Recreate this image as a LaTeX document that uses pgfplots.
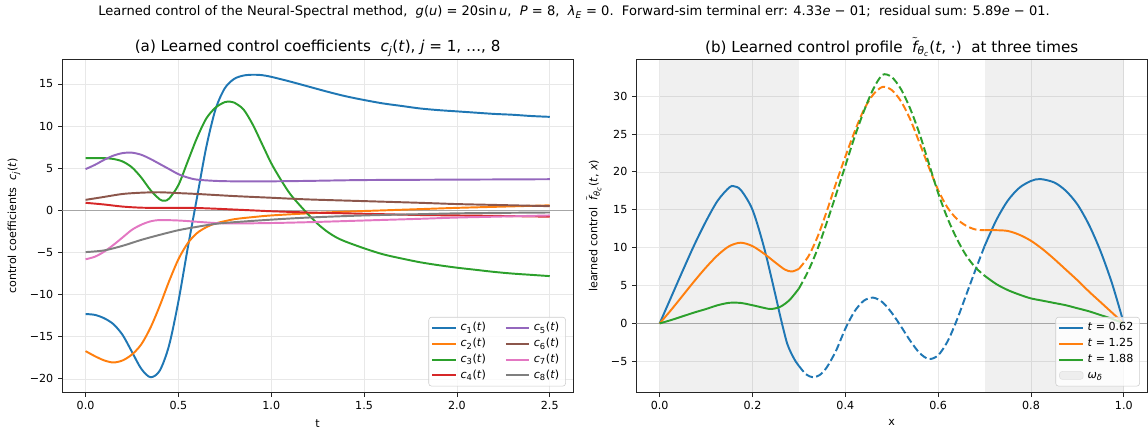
\documentclass[border=0pt]{standalone}
\usepackage{fontspec}
\setmainfont{DejaVu Sans}
\usepackage{pgfplots}
\pgfplotsset{compat=1.18}
\definecolor{C0}{HTML}{1F77B4}
\definecolor{C1}{HTML}{FF7F0E}
\definecolor{C2}{HTML}{2CA02C}
\definecolor{C3}{HTML}{D62728}
\definecolor{C4}{HTML}{9467BD}
\definecolor{C5}{HTML}{8C564B}
\definecolor{C6}{HTML}{E377C2}
\definecolor{C7}{HTML}{7F7F7F}
\newcommand{\mi}[1]{\textit{#1}}
\newcommand{\msub}[1]{\textsubscript{#1}}
\pgfplotsset{
  mpl/.style={
    scale only axis,
    width=367.6pt, height=239.8pt,
    axis line style={line width=0.6pt, black!85},
    tick align=outside, tick pos=left,
    major tick length=3pt,
    tick style={line width=0.6pt, black!85},
    grid=major,
    grid style={line width=0.5pt, black!9},
    ticklabel style={font=\fontsize{8}{9.6}\selectfont},
    title style={font=\fontsize{10.9}{13}\selectfont, yshift=-7.5pt},
    label style={font=\fontsize{8}{9.6}\selectfont},
    every axis plot/.append style={line width=1.4pt},
    legend cell align=left,
    legend style={font=\fontsize{8}{9.6}\selectfont,
      draw=black!20, rounded corners=2pt, fill=white, fill opacity=0.8, text opacity=1,
      row sep=0pt, inner sep=2pt,
      nodes={inner ysep=1.6pt, inner xsep=2.5pt, text height=6.2pt, text depth=2pt},
      /tikz/every even column/.append style={column sep=11pt}},
    legend image code/.code={\draw[#1] plot coordinates {(0pt,0pt) (17pt,0pt)};},
    mpldash/.style={dash pattern=on 5.5pt off 2.4pt},
  }
}
\begin{document}
\begin{tikzpicture}
\useasboundingbox (-44.9pt,-30.9pt) rectangle (781.6pt,282.5pt);
\node[font=\fontsize{9.4}{11}\selectfont] at (368.4pt,273.6pt) {Learned control of the Neural-Spectral method,\ \ \mi{g}(\mi{u}) = 20sin\,\mi{u},\ \ \mi{P} = 8,\ \ \mi{λ}\msub{\mi{E}} = 0.\ \ Forward-sim terminal err: 4.33\mi{e} − 01;\ \ residual sum: 5.89\mi{e} − 01.};
% ---------------- left panel
\begin{axis}[mpl, at={(0pt,0pt)}, anchor=south west,
  xmin=-0.125, xmax=2.625, ymin=-21.6, ymax=17.93,
  xtick={0,0.5,1,1.5,2,2.5}, xticklabels={0.0,0.5,1.0,1.5,2.0,2.5},
  ytick={-20,-15,-10,-5,0,5,10,15}, yticklabels={−20,−15,−10,−5,0,5,10,15},
  xlabel={t}, ylabel={control coefficients\ \ \mi{c}\msub{\mi{j}}(\mi{t})},
  title={(a) Learned control coefficients\ \ \mi{c}\msub{\mi{j}}(\mi{t}), \mi{j} = 1, …, 8},
  legend style={at={(0.986,0.018)}, anchor=south east},
  legend columns=2,
]
\addplot[black!35, line width=0.6pt, forget plot] coordinates {(-0.125,0) (2.625,0)};
\addplot[C0, smooth, forget plot] coordinates {
(0,-12.3)(0.05,-12.4)(0.1,-12.8)(0.15,-13.5)(0.2,-14.8)(0.25,-16.8)(0.3,-18.8)(0.35,-19.8)(0.4,-19.0)(0.45,-16.0)(0.5,-10.8)(0.55,-4.5)(0.6,1.5)(0.65,7.5)(0.7,12.0)(0.75,14.5)(0.8,15.6)(0.85,16.0)(0.9,16.1)(0.95,16.05)(1.0,15.85)(1.1,15.3)(1.2,14.7)(1.3,14.1)(1.4,13.55)(1.5,13.1)(1.6,12.7)(1.7,12.4)(1.8,12.1)(1.9,11.9)(2.0,11.75)(2.1,11.6)(2.2,11.45)(2.3,11.35)(2.4,11.2)(2.5,11.1)};
\addplot[C1, smooth, forget plot] coordinates {
(0,-16.7)(0.05,-17.3)(0.1,-17.8)(0.15,-18.05)(0.2,-17.8)(0.25,-17.1)(0.3,-15.9)(0.35,-13.9)(0.4,-11.3)(0.45,-8.4)(0.5,-5.8)(0.55,-3.9)(0.6,-2.7)(0.65,-2.0)(0.7,-1.55)(0.8,-1.05)(0.9,-0.8)(1.0,-0.6)(1.2,-0.35)(1.4,-0.15)(1.6,0.0)(1.8,0.15)(2.0,0.3)(2.2,0.42)(2.5,0.6)};
\addplot[C2, smooth, forget plot] coordinates {
(0,6.2)(0.05,6.2)(0.1,6.2)(0.15,6.1)(0.2,5.8)(0.25,5.1)(0.3,3.9)(0.35,2.4)(0.4,1.3)(0.425,1.15)(0.45,1.4)(0.5,3.0)(0.55,5.8)(0.6,8.6)(0.65,10.9)(0.7,12.2)(0.75,12.85)(0.78,12.9)(0.8,12.8)(0.85,12.0)(0.9,10.2)(0.95,7.9)(1.0,5.6)(1.05,3.7)(1.1,2.0)(1.15,0.7)(1.2,-0.5)(1.25,-1.6)(1.3,-2.5)(1.35,-3.2)(1.4,-3.7)(1.5,-4.5)(1.6,-5.2)(1.7,-5.7)(1.8,-6.15)(1.9,-6.5)(2.0,-6.8)(2.1,-7.05)(2.2,-7.3)(2.3,-7.5)(2.4,-7.65)(2.5,-7.8)};
\addplot[C3, smooth, forget plot] coordinates {
(0,0.9)(0.1,0.7)(0.2,0.45)(0.3,0.32)(0.4,0.3)(0.5,0.3)(0.6,0.28)(0.7,0.2)(0.8,0.1)(0.9,0.0)(1.0,-0.1)(1.2,-0.25)(1.4,-0.35)(1.6,-0.45)(1.8,-0.55)(2.0,-0.6)(2.2,-0.65)(2.5,-0.75)};
\addplot[C4, smooth, forget plot] coordinates {
(0,4.9)(0.05,5.4)(0.1,6.0)(0.15,6.5)(0.2,6.8)(0.25,6.85)(0.3,6.6)(0.35,6.1)(0.4,5.5)(0.45,4.9)(0.5,4.3)(0.55,3.9)(0.6,3.65)(0.7,3.5)(0.8,3.45)(1.0,3.45)(1.2,3.5)(1.5,3.6)(2.0,3.65)(2.5,3.7)};
\addplot[C5, smooth, forget plot] coordinates {
(0,1.25)(0.1,1.6)(0.2,1.95)(0.3,2.1)(0.4,2.15)(0.5,2.05)(0.6,1.95)(0.8,1.7)(1.0,1.5)(1.2,1.3)(1.5,1.1)(1.8,0.9)(2.0,0.75)(2.2,0.65)(2.5,0.5)};
\addplot[C6, smooth, forget plot] coordinates {
(0,-5.8)(0.05,-5.5)(0.1,-4.9)(0.15,-4.1)(0.2,-3.2)(0.25,-2.3)(0.3,-1.7)(0.35,-1.3)(0.4,-1.15)(0.5,-1.2)(0.6,-1.35)(0.7,-1.5)(0.8,-1.55)(1.0,-1.5)(1.2,-1.4)(1.5,-1.2)(1.8,-1.0)(2.0,-0.85)(2.2,-0.75)(2.5,-0.6)};
\addplot[C7, smooth, forget plot] coordinates {
(0,-4.95)(0.1,-4.75)(0.2,-4.2)(0.3,-3.5)(0.4,-2.9)(0.5,-2.35)(0.6,-1.95)(0.7,-1.6)(0.8,-1.4)(1.0,-1.1)(1.2,-0.85)(1.5,-0.6)(1.8,-0.45)(2.0,-0.35)(2.2,-0.3)(2.5,-0.25)};
\addlegendimage{C0, line width=1.4pt}\addlegendentry{\mi{c}\msub{1}(\mi{t})}
\addlegendimage{C4, line width=1.4pt}\addlegendentry{\mi{c}\msub{5}(\mi{t})}
\addlegendimage{C1, line width=1.4pt}\addlegendentry{\mi{c}\msub{2}(\mi{t})}
\addlegendimage{C5, line width=1.4pt}\addlegendentry{\mi{c}\msub{6}(\mi{t})}
\addlegendimage{C2, line width=1.4pt}\addlegendentry{\mi{c}\msub{3}(\mi{t})}
\addlegendimage{C6, line width=1.4pt}\addlegendentry{\mi{c}\msub{7}(\mi{t})}
\addlegendimage{C3, line width=1.4pt}\addlegendentry{\mi{c}\msub{4}(\mi{t})}
\addlegendimage{C7, line width=1.4pt}\addlegendentry{\mi{c}\msub{8}(\mi{t})}
\end{axis}
% ---------------- right panel
\begin{axis}[mpl, at={(413.3pt,0pt)}, anchor=south west,
  xmin=-0.05, xmax=1.05, ymin=-9.1, ymax=34.85,
  xtick={0,0.2,0.4,0.6,0.8,1.0}, xticklabels={0.0,0.2,0.4,0.6,0.8,1.0},
  ytick={-5,0,5,10,15,20,25,30}, yticklabels={−5,0,5,10,15,20,25,30},
  xlabel={x}, ylabel={learned control\ \ $\tilde{\mbox{\itshape f}}$\msub{\mi{θ}\msub{\mi{c}}}(\mi{t}, \mi{x})},
  title={(b) Learned control profile\ \ $\tilde{\mbox{\itshape f}}$\msub{\mi{θ}\msub{\mi{c}}}(\mi{t}, ·)\ \ at three times},
  legend style={at={(0.986,0.018)}, anchor=south east},
]
\addplot[draw=none, fill=black, fill opacity=0.06, forget plot] coordinates {(0,-9.1)(0,34.85)(0.3,34.85)(0.3,-9.1)} -- cycle;
\addplot[draw=none, fill=black, fill opacity=0.06, forget plot] coordinates {(0.7,-9.1)(0.7,34.85)(1.0,34.85)(1.0,-9.1)} -- cycle;
\addplot[black!35, line width=0.6pt, forget plot] coordinates {(-0.05,0) (1.05,0)};
% t = 0.62
\addplot[C0, smooth] coordinates {
(0,0)(0.025,3.5)(0.05,7.0)(0.075,10.4)(0.1,13.5)(0.125,16.2)(0.15,17.95)(0.16,18.1)(0.175,17.6)(0.2,15.0)(0.225,10.0)(0.25,3.6)(0.26,0.9)(0.275,-2.7)(0.29,-4.7)(0.3,-5.6)};
\addlegendentry{\mi{t} = 0.62}
\addplot[C1, smooth] coordinates {
(0,0)(0.025,1.8)(0.05,3.7)(0.075,5.6)(0.1,7.4)(0.125,9.0)(0.15,10.2)(0.175,10.65)(0.2,10.2)(0.225,9.2)(0.25,8.0)(0.27,7.1)(0.285,6.85)(0.3,7.2)};
\addlegendentry{\mi{t} = 1.25}
\addplot[C2, smooth] coordinates {
(0,0)(0.025,0.45)(0.05,0.95)(0.075,1.45)(0.1,1.9)(0.125,2.4)(0.15,2.72)(0.175,2.7)(0.2,2.4)(0.225,2.05)(0.24,1.9)(0.26,2.2)(0.28,3.1)(0.3,4.6)};
\addlegendentry{\mi{t} = 1.88}
\addplot[C0, smooth, mpldash, forget plot] coordinates {
(0.3,-5.6)(0.315,-6.7)(0.33,-7.1)(0.345,-6.8)(0.36,-5.8)(0.38,-3.6)(0.4,-0.7)(0.42,1.6)(0.44,3.0)(0.46,3.4)(0.48,2.8)(0.5,1.4)(0.52,-0.4)(0.54,-2.3)(0.56,-3.9)(0.58,-4.7)(0.6,-4.2)(0.62,-2.4)(0.64,0.4)(0.66,3.7)(0.68,7.0)(0.7,10.2)};
\addplot[C0, smooth, forget plot] coordinates {
(0.7,10.2)(0.725,13.6)(0.75,16.2)(0.775,17.9)(0.8,18.8)(0.82,19.05)(0.85,18.6)(0.875,17.5)(0.9,15.7)(0.925,13.0)(0.95,9.5)(0.975,5.2)(1.0,0)};
\addplot[C1, smooth, mpldash, forget plot] coordinates {
(0.3,7.2)(0.32,8.8)(0.34,11.4)(0.36,14.8)(0.38,18.5)(0.4,22.0)(0.42,25.3)(0.44,28.2)(0.46,30.2)(0.48,31.2)(0.5,30.8)(0.52,29.3)(0.54,26.9)(0.56,23.8)(0.58,20.6)(0.6,17.6)(0.62,15.3)(0.64,13.8)(0.66,12.9)(0.68,12.4)(0.7,12.3)};
\addplot[C1, smooth, forget plot] coordinates {
(0.7,12.3)(0.725,12.3)(0.75,12.2)(0.775,11.7)(0.8,10.9)(0.825,9.8)(0.85,8.5)(0.875,7.1)(0.9,5.7)(0.925,4.2)(0.95,2.8)(0.975,1.4)(1.0,0)};
\addplot[C2, smooth, mpldash, forget plot] coordinates {
(0.3,4.6)(0.32,6.9)(0.34,9.8)(0.36,13.3)(0.38,17.0)(0.4,20.8)(0.42,24.6)(0.44,28.0)(0.46,30.9)(0.48,32.8)(0.5,32.5)(0.52,30.9)(0.54,28.3)(0.56,25.0)(0.58,21.1)(0.6,17.2)(0.62,13.9)(0.64,11.2)(0.66,9.0)(0.68,7.4)(0.7,6.3)};
\addplot[C2, smooth, forget plot] coordinates {
(0.7,6.3)(0.725,5.2)(0.75,4.4)(0.775,3.8)(0.8,3.3)(0.825,3.0)(0.85,2.7)(0.875,2.4)(0.9,2.0)(0.925,1.6)(0.95,1.1)(0.975,0.6)(1.0,0)};
\addlegendimage{area legend, draw=black!12, fill=black!8, line width=0.4pt}
\addlegendentry{\mi{ω}\msub{\mi{δ}}}
\end{axis}
\end{tikzpicture}
\end{document}
